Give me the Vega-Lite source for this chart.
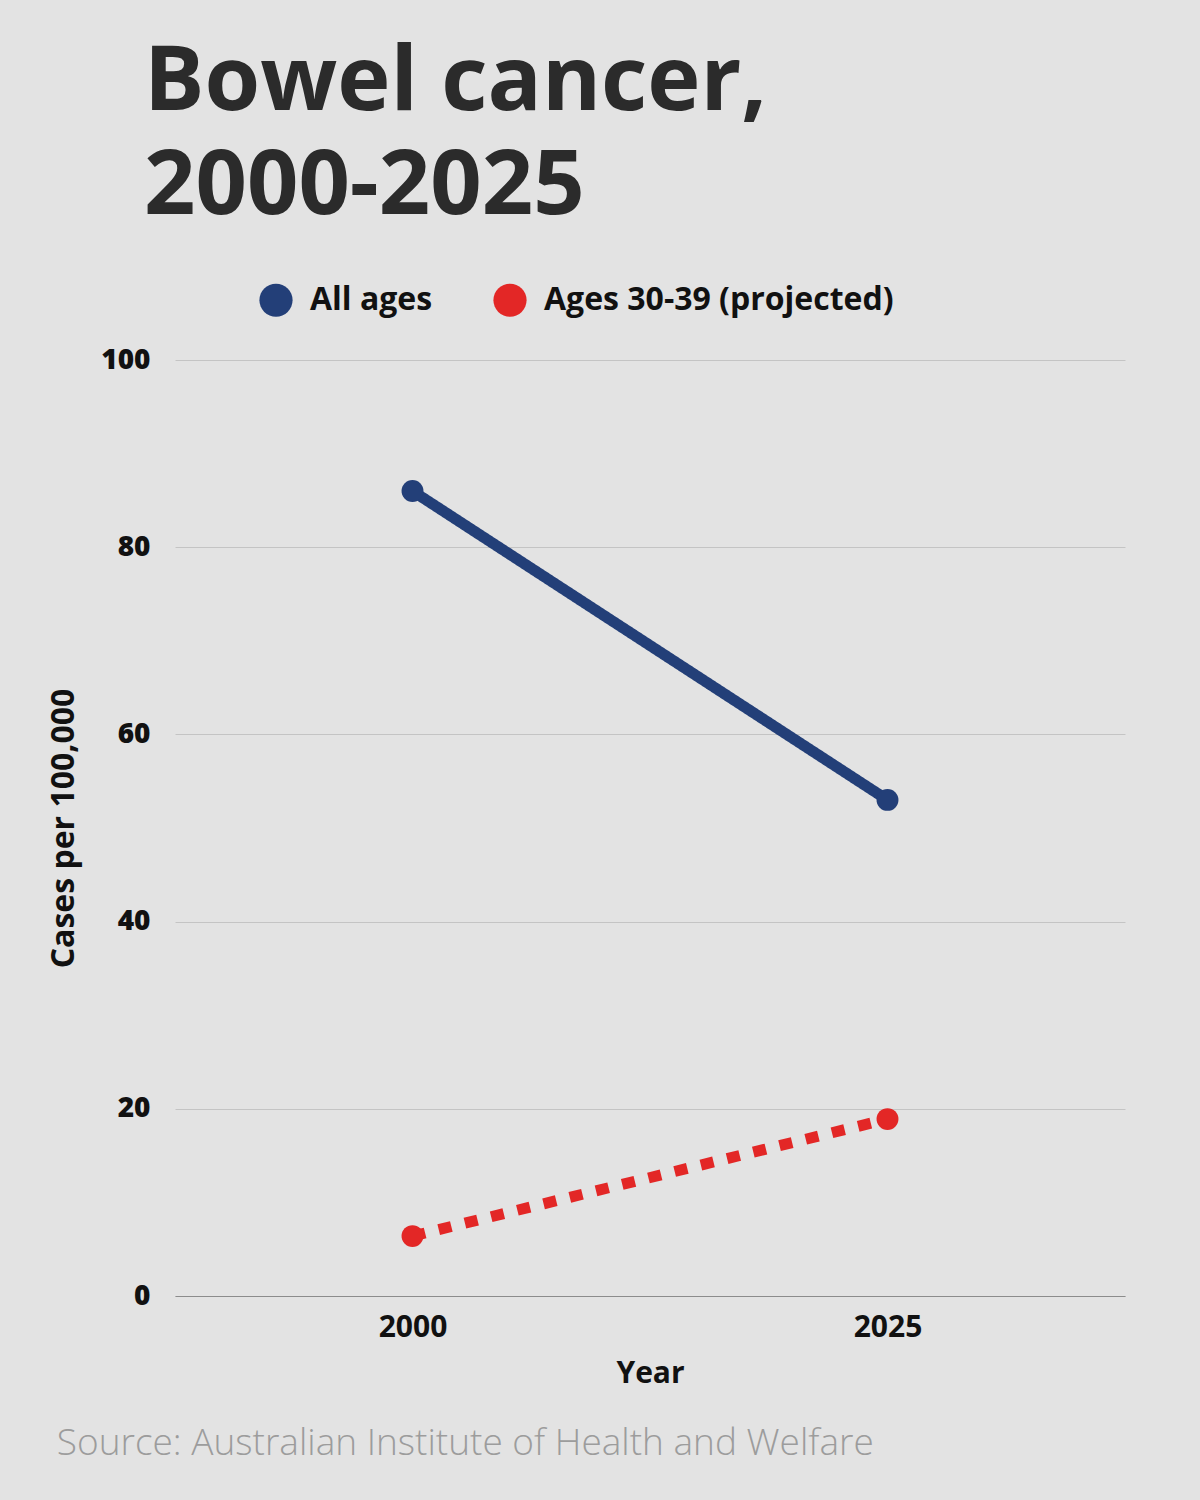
{
  "$schema": "https://vega.github.io/schema/vega-lite/v6.json",
  "background": "#e3e3e3",
  "autosize": {"type": "pad"},
  "padding": {"left": 47, "top": 38, "right": 78, "bottom": 62},
  "title": {
    "text": "Source: Australian Institute of Health and Welfare",
    "orient": "bottom",
    "anchor": "start",
    "frame": "bounds",
    "dx": 9,
    "font": "Open Sans",
    "fontSize": 37,
    "fontWeight": 300,
    "color": "#9c9c9c",
    "offset": 38
  },
  "config": {
    "view": {"stroke": null},
    "axis": {
      "labelFont": "Open Sans",
      "titleFont": "Open Sans",
      "labelColor": "#111111",
      "titleColor": "#111111"
    },
    "legend": {"labelFont": "Open Sans"}
  },
  "vconcat": [
    {
      "width": 950,
      "height": 936,
      "title": {
        "text": ["Bowel cancer,", "2000-2025"],
        "anchor": "start",
        "frame": "group",
        "dx": -31,
        "font": "Open Sans",
        "fontSize": 90,
        "fontWeight": 700,
        "color": "#2b2b2b",
        "lineHeight": 104,
        "offset": 50
      },
      "data": {
        "values": [
          {"year": "2000", "series": "All ages", "rate": 86.0},
          {"year": "2025", "series": "All ages", "rate": 53.0},
          {"year": "2000", "series": "Ages 30-39 (projected)", "rate": 6.4},
          {"year": "2025", "series": "Ages 30-39 (projected)", "rate": 18.9}
        ]
      },
      "encoding": {
        "x": {
          "field": "year",
          "type": "ordinal",
          "scale": {"type": "point", "padding": 0.5},
          "axis": {
            "title": "Year",
            "labelAngle": 0,
            "labelFontSize": 30,
            "labelFontWeight": 700,
            "labelPadding": 16,
            "titleFontSize": 30,
            "titleFontWeight": 700,
            "titlePadding": 16,
            "domain": true,
            "domainColor": "#8c8c8c",
            "domainWidth": 1,
            "ticks": false,
            "grid": false
          }
        },
        "y": {
          "field": "rate",
          "type": "quantitative",
          "scale": {"domain": [0, 100], "nice": false},
          "axis": {
            "title": "Cases per 100,000",
            "values": [0, 20, 40, 60, 80, 100],
            "labelFontSize": 28,
            "labelFontWeight": 800,
            "labelPadding": 25,
            "titleFontSize": 32,
            "titleFontWeight": 700,
            "titlePadding": 20,
            "domain": false,
            "ticks": false,
            "grid": true,
            "gridColor": "#c4c4c4",
            "gridWidth": 1
          }
        },
        "color": {
          "field": "series",
          "type": "nominal",
          "scale": {
            "domain": ["All ages", "Ages 30-39 (projected)"],
            "range": ["#233f78", "#e32726"]
          }
        }
      },
      "layer": [
        {
          "mark": {"type": "line", "strokeWidth": 11, "strokeCap": "butt"},
          "encoding": {
            "color": {
              "field": "series",
              "type": "nominal",
              "legend": null
            },
            "strokeDash": {
              "field": "series",
              "type": "nominal",
              "scale": {
                "domain": ["All ages", "Ages 30-39 (projected)"],
                "range": [[1, 0], [13, 14]]
              },
              "legend": null
            }
          }
        },
        {
          "mark": {"type": "point", "filled": true, "opacity": 1, "size": 480},
          "encoding": {
            "color": {
              "field": "series",
              "type": "nominal",
              "legend": {
                "title": null,
                "orient": "none",
                "legendX": 84,
                "legendY": -77,
                "direction": "horizontal",
                "symbolType": "circle",
                "symbolSize": 1100,
                "symbolStrokeWidth": 0,
                "symbolOpacity": 1,
                "labelFontSize": 32,
                "labelFontWeight": 700,
                "labelColor": "#111111",
                "labelOffset": 17,
                "labelLimit": 0,
                "columnPadding": 60,
                "padding": 0
              }
            }
          }
        }
      ],
      "resolve": {"legend": {"color": "independent"}}
    }
  ]
}
